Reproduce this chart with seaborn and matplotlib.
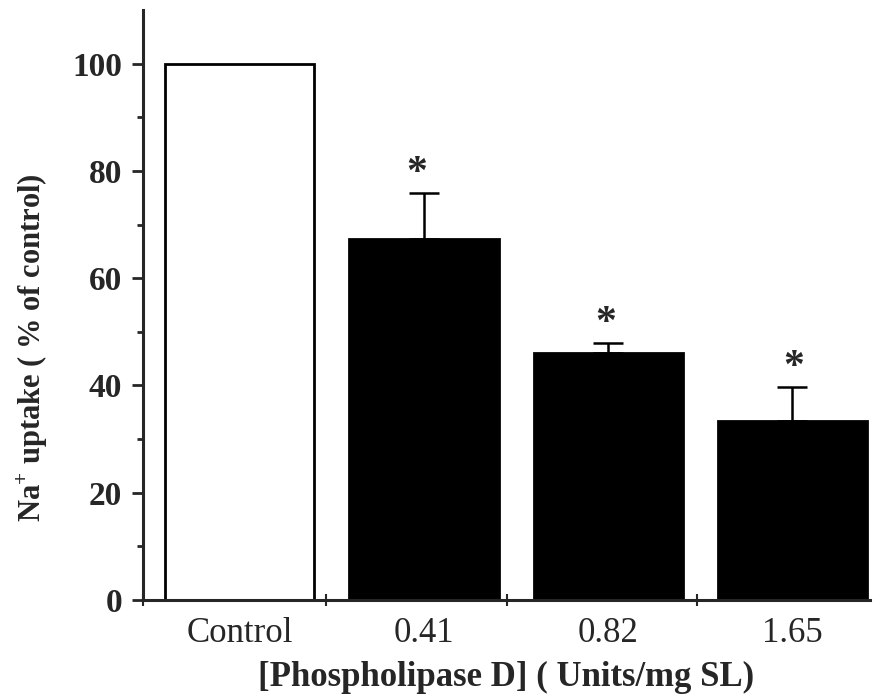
import matplotlib
matplotlib.use("Agg")
import matplotlib.pyplot as plt
import seaborn as sns
import pandas as pd
import numpy as np

# Na+ uptake by sarcolemma vesicles after phospholipase D treatment
categories = ["Control", "0.41", "0.82", "1.65"]
uptake = [100.0, 67.3, 46.0, 33.4]
sem = [0.0, 8.5, 2.0, 6.3]
significant = [False, True, True, True]
bar_colors = ["white", "black", "black", "black"]

sns.set_style("ticks")
plt.rcParams["font.family"] = ["Liberation Serif", "DejaVu Serif"]
plt.rcParams["mathtext.fontset"] = "custom"
plt.rcParams["mathtext.rm"] = "Liberation Serif:bold"
plt.rcParams["mathtext.bf"] = "Liberation Serif:bold"

df = pd.DataFrame({"dose": categories, "uptake": uptake})

fig = plt.figure(figsize=(8.76, 6.98), dpi=100)
ax = fig.add_axes([0.1632, 0.1404, 0.8298, 0.8453])

sns.barplot(data=df, x="dose", y="uptake", hue="dose", palette=bar_colors,
            legend=False, width=0.81, edgecolor="black", linewidth=2,
            errorbar=None, ax=ax)

x = np.arange(len(categories))
err = np.array(sem)
tops = np.array(uptake) + err
mask = err > 0
ax.errorbar(x[mask], np.array(uptake)[mask],
            yerr=[np.zeros(mask.sum()), err[mask]],
            fmt="none", ecolor="black", elinewidth=1.8, capsize=11,
            capthick=1.8)

star_dx = [0, -5, -2, 1]
for xi, top, sig, dx in zip(x, tops, significant, star_dx):
    if sig:
        ax.annotate("*", (xi, top), xytext=(dx, 0),
                    textcoords="offset points", ha="center", va="bottom",
                    fontsize=30, fontweight="bold")

ax.set_ylim(0, 110)
ax.set_xlim(-0.525, 3.42)
ax.set_yticks([0, 20, 40, 60, 80, 100])
ax.set_yticks([10, 30, 50, 70, 90], minor=True)
ax.set_xticks(x)
ax.set_xticklabels(categories)
ax.set_xticks([-0.525, 0.47, 1.45, 2.48], minor=True)

ax.tick_params(axis="y", which="major", length=8, width=2, pad=7,
               labelsize=24)
ax.tick_params(axis="y", which="minor", length=4, width=2)
ax.tick_params(axis="x", which="major", length=0, pad=12, labelsize=25)
ax.tick_params(axis="x", which="minor", length=8, width=1.5,
               direction="inout")
for lab in ax.get_yticklabels():
    lab.set_fontweight("bold")

sns.despine(ax=ax)
for side in ("left", "bottom"):
    ax.spines[side].set_linewidth(2.2)

ax.set_xlabel("[Phospholipase D] ( Units/mg SL)", fontsize=25,
              fontweight="bold", labelpad=8)
ax.set_ylabel(r"Na$^{+}$ uptake ( % of control)", fontsize=22,
              fontweight="bold")
ax.yaxis.set_label_coords(-0.128, 0.427)

fig.savefig("out.png", dpi=100)
